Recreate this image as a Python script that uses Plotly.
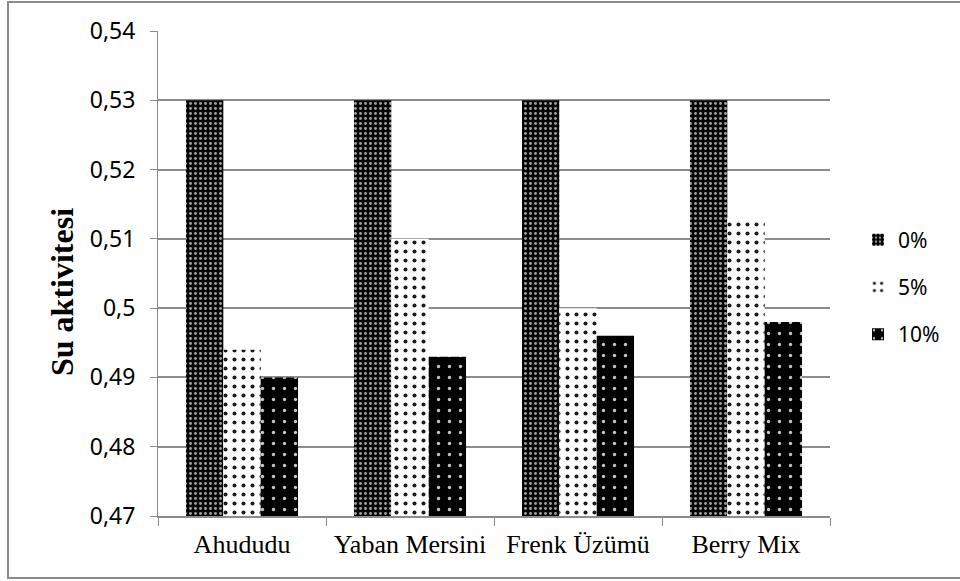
import plotly.graph_objects as go

categories = ["Ahududu", "Yaban Mersini", "Frenk Üzümü", "Berry Mix"]
series_names = ["0%", "5%", "10%"]
values_0 = [0.530, 0.530, 0.530, 0.530]
values_5 = [0.494, 0.510, 0.500, 0.513]
values_10 = [0.490, 0.493, 0.496, 0.498]
y_ticks = [0.47, 0.48, 0.49, 0.50, 0.51, 0.52, 0.53, 0.54]
y_ticktext = ["0,47", "0,48", "0,49", "0,5", "0,51", "0,52", "0,53", "0,54"]
y_title = "Su aktivitesi"

patterns = [
    dict(shape=".", bgcolor="#050505", fgcolor="#a0a0a0", size=5, solidity=0.26, fillmode="replace"),
    dict(shape=".", bgcolor="white", fgcolor="#1a1a1a", size=9, solidity=0.16, fillmode="replace"),
    dict(shape=".", bgcolor="black", fgcolor="#c8c8c8", size=11, solidity=0.07, fillmode="replace"),
]

fig = go.Figure()
for name, vals, pat in zip(series_names, [values_0, values_5, values_10], patterns):
    fig.add_trace(go.Bar(
        x=categories, y=vals, name=name, legendgroup=name,
        marker=dict(color=pat["bgcolor"], pattern=pat, line=dict(width=0)),
    ))

W, H = 960, 581
ml, mr, mt, mb = 158, 130, 31, 65
pw, ph = W - ml - mr, H - mt - mb

def px_to_paper_x(px):
    return (px - ml) / pw

def px_to_paper_y(py):
    return (H - mb - py) / ph

fig.update_layout(
    width=W, height=H,
    margin=dict(l=ml, r=mr, t=mt, b=mb, pad=0),
    paper_bgcolor="white", plot_bgcolor="white",
    barmode="group", bargap=0.333, bargroupgap=0,
    showlegend=True,
    legend=dict(x=px_to_paper_x(858), y=px_to_paper_y(287), xanchor="left", yanchor="middle",
                font=dict(family="Noto Sans", size=21, color="black"),
                traceorder="grouped", tracegroupgap=17,
                itemsizing="constant", itemwidth=30),
    font=dict(family="Noto Sans", color="black"),
    shapes=[dict(type="rect", xref="paper", yref="paper",
                 x0=px_to_paper_x(8), x1=px_to_paper_x(965),
                 y0=px_to_paper_y(578), y1=px_to_paper_y(2),
                 line=dict(color="#8c8c8c", width=2), fillcolor="rgba(0,0,0,0)", layer="below")],
    annotations=[dict(text=f"<b>{y_title}</b>", xref="paper", yref="paper",
                      x=px_to_paper_x(62), y=px_to_paper_y(292),
                      xanchor="center", yanchor="middle", textangle=-90, showarrow=False,
                      font=dict(family="Liberation Serif", size=32, color="black"))],
)

fig.update_xaxes(
    showgrid=False, showline=True, linecolor="#8c8c8c", linewidth=2,
    ticks="outside", ticklen=8, tickcolor="#8c8c8c", tickwidth=1,
    tickson="boundaries", ticklabelstandoff=4,
    tickfont=dict(family="Liberation Serif", size=26, color="black"),
)
fig.update_yaxes(
    range=[0.47, 0.54], tickvals=y_ticks, ticktext=y_ticktext,
    showgrid=True, gridcolor="#8c8c8c", gridwidth=2,
    showline=True, linecolor="#8c8c8c", linewidth=1,
    ticks="outside", ticklen=7, tickcolor="#8c8c8c",
    ticklabelstandoff=10,
    tickfont=dict(family="Noto Sans", size=23, color="black"),
    zeroline=False,
)

fig.write_html("out.html")
